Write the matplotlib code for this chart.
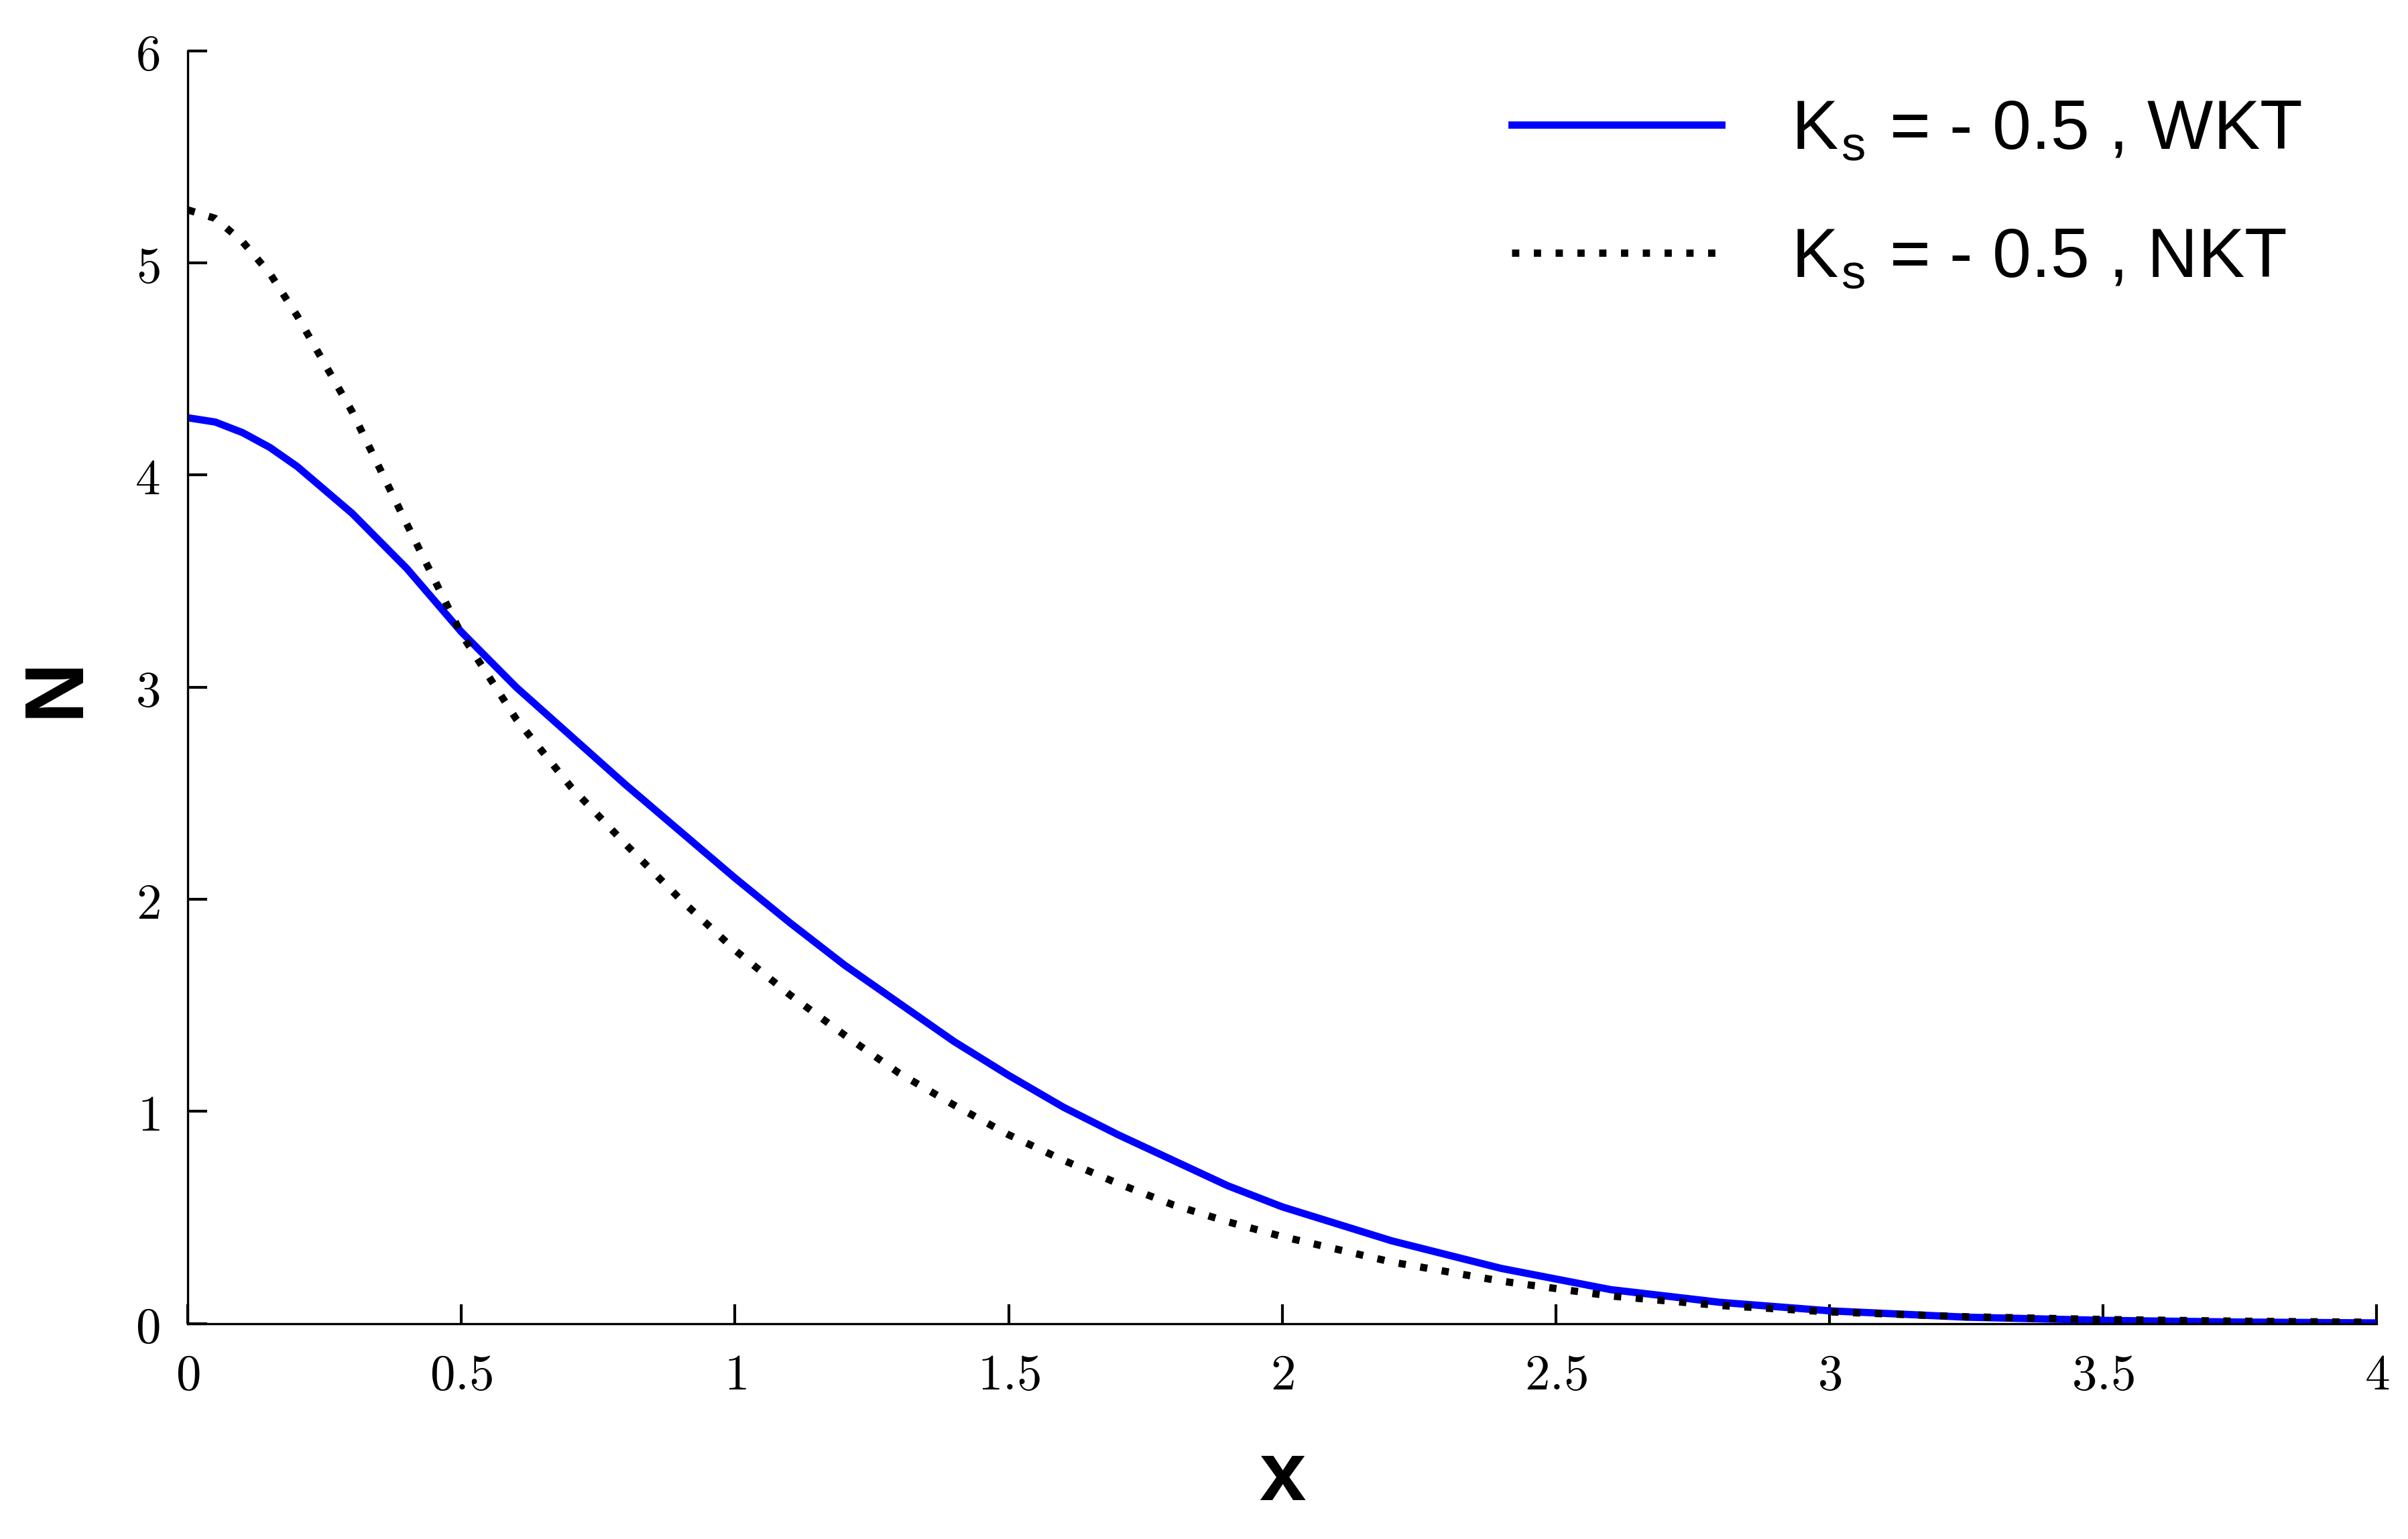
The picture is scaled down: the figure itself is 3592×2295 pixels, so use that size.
import numpy as np
import matplotlib.pyplot as plt

plt.rcParams["mathtext.fontset"] = "cm"

# Values
x = [0, 0.05, 0.1, 0.15, 0.2, 0.3, 0.4, 0.5, 0.6, 0.7, 0.8, 0.9, 1.0, 1.1, 1.2, 1.3, 1.4, 1.5,
     1.6, 1.7, 1.8, 1.9, 2.0, 2.2, 2.4, 2.6, 2.8, 3.0, 3.25, 3.5, 3.75, 4.0]
n_wkt = [4.27, 4.25, 4.20, 4.13, 4.04, 3.82, 3.56, 3.26, 3.00, 2.77, 2.54, 2.32, 2.10, 1.89, 1.69,
         1.51, 1.33, 1.17, 1.02, 0.89, 0.77, 0.65, 0.55, 0.39, 0.26, 0.16, 0.10, 0.06, 0.03, 0.015,
         0.007, 0.003]
n_nkt = [5.25, 5.21, 5.10, 4.95, 4.75, 4.30, 3.77, 3.25, 2.85, 2.53, 2.26, 2.00, 1.76, 1.55, 1.36,
         1.18, 1.03, 0.89, 0.77, 0.66, 0.56, 0.48, 0.41, 0.29, 0.20, 0.13, 0.085, 0.055, 0.032,
         0.019, 0.011, 0.006]
xticks = [0, 0.5, 1, 1.5, 2, 2.5, 3, 3.5, 4]
yticks = [0, 1, 2, 3, 4, 5, 6]

fig = plt.figure(figsize=(3592 / 300, 2295 / 300), dpi=300)
ax = fig.add_axes([0.078, 0.14, 0.909, 0.827])

ax.plot(x, n_wkt, color="#0000ff", lw=2.6, label="K$_\\mathregular{s}$ = - 0.5 , WKT")
ax.plot(x, n_nkt, color="black", lw=2.6, ls=(0, (1, 2)), label="K$_\\mathregular{s}$ = - 0.5 , NKT")

ax.set_xlim(0, 4)
ax.set_ylim(0, 6)
ax.set_xticks(xticks)
ax.set_xticklabels(["$\\mathrm{%g}$" % v for v in xticks])
ax.set_yticks(yticks)
ax.set_yticklabels(["$\\mathrm{%g}$" % v for v in yticks])
ax.tick_params(direction="in", length=7, width=1.0, pad=10, labelsize=18)
ax.spines["top"].set_visible(False)
ax.spines["right"].set_visible(False)

ax.set_xlabel("x", family="Liberation Sans", fontsize=30, labelpad=14, fontweight="bold")
ax.set_ylabel("N", family="Liberation Sans", fontsize=30, labelpad=14, fontweight="bold")

leg = ax.legend(loc="upper right", bbox_to_anchor=(0.985, 0.995), frameon=False,
                prop={"family": "Liberation Sans", "size": 25},
                handlelength=3.0, handletextpad=1.0, labelspacing=0.9, borderaxespad=0.2)

fig.savefig("out.png", dpi=300)
